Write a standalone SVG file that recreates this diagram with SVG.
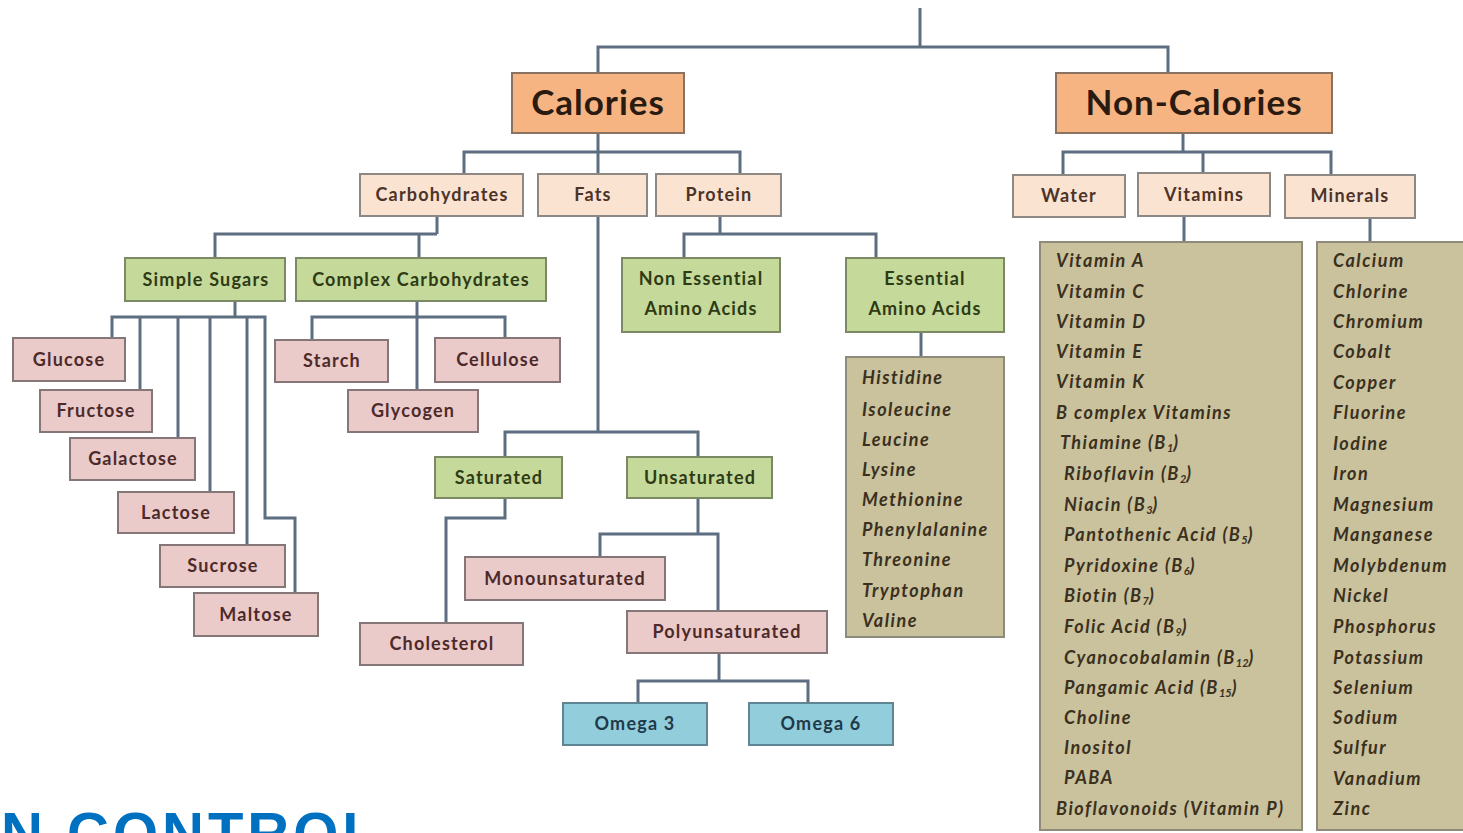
<svg xmlns="http://www.w3.org/2000/svg" width="1463" height="833" viewBox="0 0 1463 833">
<defs>
<style>
.b{stroke-width:2}
.or{fill:#F6B483;stroke:#8a7260}
.pe{fill:#FBE3D2;stroke:#8e8884}
.gr{fill:#C5D99B;stroke:#7b8a64}
.pk{fill:#EBCACA;stroke:#857777}
.bl{fill:#92CDDC;stroke:#5f8494}
.kh{fill:#C9C29D;stroke:#8f8b7a}
text{font-family:Lato,"Open Sans","Liberation Sans",sans-serif;font-weight:bold}
.t1{font-size:35px;letter-spacing:1px;fill:#2a1a10;text-anchor:middle}
.t2,.tg,.tp,.tb{font-size:18px;letter-spacing:1.2px;text-anchor:middle}
.t2{fill:#4d3328}
.tg{fill:#2e3b14}
.tp{fill:#4d2a2a}
.tb{fill:#1f3a48}
.li{font-size:18px;letter-spacing:1.5px;font-style:italic;fill:#3b3020}
.sb{font-size:11px;letter-spacing:0}
.con{fill:none;stroke:#5d6e80;stroke-width:3}
</style>
</defs>
<rect width="1463" height="833" fill="#ffffff"/>
<g id="connectors" class="con">
<path d="M920,8 V47"/>
<path d="M598,73 V47 H1168 V73"/>
<path d="M598,133 V174"/>
<path d="M464,174 V152 H740 V174"/>
<path d="M1183,133 V152"/>
<path d="M1063,175 V152 H1331 V175"/>
<path d="M1203,152 V173"/>
<path d="M1184,216 V242"/>
<path d="M1370,218 V242"/>
<path d="M437,216 V234"/>
<path d="M215,258 V234 H437"/>
<path d="M419,234 V258"/>
<path d="M235,301 V317"/>
<path d="M112,338 V317 H265 V518 H295 V593"/>
<path d="M140,317 V390"/>
<path d="M178,317 V438"/>
<path d="M210,317 V492"/>
<path d="M247,317 V545"/>
<path d="M417,301 V390"/>
<path d="M312,340 V317 H505 V338"/>
<path d="M598,216 V432"/>
<path d="M505,457 V432 H698 V457"/>
<path d="M505,498 V518 H446 V623"/>
<path d="M698,498 V534"/>
<path d="M600,557 V534 H718 V611"/>
<path d="M719,653 V681"/>
<path d="M638,703 V681 H808 V703"/>
<path d="M720,216 V234"/>
<path d="M684,258 V234 H876 V258"/>
<path d="M921,332 V357"/>
</g>
<g id="calories"><rect class="b or" x="512" y="73" width="172" height="60"/><text class="t1" x="598" y="115">Calories</text></g>
<g id="non-calories"><rect class="b or" x="1056" y="73" width="276" height="60"/><text class="t1" x="1194" y="115">Non-Calories</text></g>
<g id="carbohydrates"><rect class="b pe" x="360" y="174" width="163" height="42"/><text class="t2" x="442" y="201">Carbohydrates</text></g>
<g id="fats"><rect class="b pe" x="538" y="174" width="109" height="42"/><text class="t2" x="593" y="201">Fats</text></g>
<g id="protein"><rect class="b pe" x="656" y="174" width="125" height="42"/><text class="t2" x="719" y="201">Protein</text></g>
<g id="water"><rect class="b pe" x="1013" y="175" width="112" height="42"/><text class="t2" x="1069" y="202">Water</text></g>
<g id="vitamins"><rect class="b pe" x="1138" y="173" width="132" height="43"/><text class="t2" x="1204" y="201">Vitamins</text></g>
<g id="minerals"><rect class="b pe" x="1285" y="175" width="130" height="43"/><text class="t2" x="1350" y="202">Minerals</text></g>
<g id="simple-sugars"><rect class="b gr" x="125" y="258" width="160" height="43"/><text class="tg" x="206" y="285.5">Simple Sugars</text></g>
<g id="complex-carbohydrates"><rect class="b gr" x="296" y="258" width="250" height="43"/><text class="tg" x="421" y="285.5">Complex Carbohydrates</text></g>
<g id="non-essential"><rect class="b gr" x="622" y="258" width="158" height="74"/><text class="tg" x="701" y="285">Non Essential</text><text class="tg" x="701" y="315">Amino Acids</text></g>
<g id="essential"><rect class="b gr" x="846" y="258" width="158" height="74"/><text class="tg" x="925" y="285">Essential</text><text class="tg" x="925" y="315">Amino Acids</text></g>
<g id="glucose"><rect class="b pk" x="13" y="338" width="112" height="43"/><text class="tp" x="69" y="365.5">Glucose</text></g>
<g id="fructose"><rect class="b pk" x="40" y="390" width="112" height="42"/><text class="tp" x="96" y="417">Fructose</text></g>
<g id="galactose"><rect class="b pk" x="70" y="438" width="125" height="42"/><text class="tp" x="133" y="465">Galactose</text></g>
<g id="lactose"><rect class="b pk" x="118" y="492" width="116" height="41"/><text class="tp" x="176" y="518.5">Lactose</text></g>
<g id="sucrose"><rect class="b pk" x="160" y="545" width="125" height="42"/><text class="tp" x="223" y="572">Sucrose</text></g>
<g id="maltose"><rect class="b pk" x="194" y="593" width="124" height="43"/><text class="tp" x="256" y="620.5">Maltose</text></g>
<g id="starch"><rect class="b pk" x="275" y="340" width="113" height="42"/><text class="tp" x="332" y="367">Starch</text></g>
<g id="cellulose"><rect class="b pk" x="435" y="338" width="125" height="44"/><text class="tp" x="498" y="366">Cellulose</text></g>
<g id="glycogen"><rect class="b pk" x="348" y="390" width="130" height="42"/><text class="tp" x="413" y="417">Glycogen</text></g>
<g id="saturated"><rect class="b gr" x="435" y="457" width="127" height="41"/><text class="tg" x="499" y="483.5">Saturated</text></g>
<g id="unsaturated"><rect class="b gr" x="627" y="457" width="145" height="41"/><text class="tg" x="700" y="483.5">Unsaturated</text></g>
<g id="cholesterol"><rect class="b pk" x="360" y="623" width="163" height="42"/><text class="tp" x="442" y="650">Cholesterol</text></g>
<g id="monounsaturated"><rect class="b pk" x="465" y="557" width="200" height="43"/><text class="tp" x="565" y="584.5">Monounsaturated</text></g>
<g id="polyunsaturated"><rect class="b pk" x="627" y="611" width="200" height="42"/><text class="tp" x="727" y="638">Polyunsaturated</text></g>
<g id="omega3"><rect class="b bl" x="563" y="703" width="144" height="42"/><text class="tb" x="635" y="730">Omega 3</text></g>
<g id="omega6"><rect class="b bl" x="749" y="703" width="144" height="42"/><text class="tb" x="821" y="730">Omega 6</text></g>
<g id="amino-list"><rect class="b kh" x="846" y="357" width="158" height="280"/>
<text class="li" x="862" y="384">Histidine</text>
<text class="li" x="862" y="416">Isoleucine</text>
<text class="li" x="862" y="446">Leucine</text>
<text class="li" x="862" y="476">Lysine</text>
<text class="li" x="862" y="506">Methionine</text>
<text class="li" x="862" y="536">Phenylalanine</text>
<text class="li" x="862" y="566">Threonine</text>
<text class="li" x="862" y="597">Tryptophan</text>
<text class="li" x="862" y="627">Valine</text>
</g>
<g id="vitamin-list"><rect class="b kh" x="1040" y="242" width="262" height="588"/>
<text class="li" x="1056" y="267">Vitamin A</text>
<text class="li" x="1056" y="298">Vitamin C</text>
<text class="li" x="1056" y="328">Vitamin D</text>
<text class="li" x="1056" y="358">Vitamin E</text>
<text class="li" x="1056" y="388">Vitamin K</text>
<text class="li" x="1056" y="419">B complex Vitamins</text>
<text class="li" x="1060" y="449">Thiamine (B<tspan class="sb" dy="3">1</tspan><tspan dy="-3">)</tspan></text>
<text class="li" x="1064" y="480">Riboflavin (B<tspan class="sb" dy="3">2</tspan><tspan dy="-3">)</tspan></text>
<text class="li" x="1064" y="511">Niacin (B<tspan class="sb" dy="3">3</tspan><tspan dy="-3">)</tspan></text>
<text class="li" x="1064" y="541">Pantothenic Acid (B<tspan class="sb" dy="3">5</tspan><tspan dy="-3">)</tspan></text>
<text class="li" x="1064" y="572">Pyridoxine (B<tspan class="sb" dy="3">6</tspan><tspan dy="-3">)</tspan></text>
<text class="li" x="1064" y="602">Biotin (B<tspan class="sb" dy="3">7</tspan><tspan dy="-3">)</tspan></text>
<text class="li" x="1064" y="633">Folic Acid (B<tspan class="sb" dy="3">9</tspan><tspan dy="-3">)</tspan></text>
<text class="li" x="1064" y="664">Cyanocobalamin (B<tspan class="sb" dy="3">12</tspan><tspan dy="-3">)</tspan></text>
<text class="li" x="1064" y="694">Pangamic Acid (B<tspan class="sb" dy="3">15</tspan><tspan dy="-3">)</tspan></text>
<text class="li" x="1064" y="724">Choline</text>
<text class="li" x="1064" y="754">Inositol</text>
<text class="li" x="1064" y="784">PABA</text>
<text class="li" x="1056" y="815">Bioflavonoids (Vitamin P)</text>
</g>
<g id="mineral-list"><rect class="b kh" x="1317" y="242" width="160" height="588"/>
<text class="li" x="1333" y="267">Calcium</text>
<text class="li" x="1333" y="298">Chlorine</text>
<text class="li" x="1333" y="328">Chromium</text>
<text class="li" x="1333" y="358">Cobalt</text>
<text class="li" x="1333" y="389">Copper</text>
<text class="li" x="1333" y="419">Fluorine</text>
<text class="li" x="1333" y="450">Iodine</text>
<text class="li" x="1333" y="480">Iron</text>
<text class="li" x="1333" y="511">Magnesium</text>
<text class="li" x="1333" y="541">Manganese</text>
<text class="li" x="1333" y="572">Molybdenum</text>
<text class="li" x="1333" y="602">Nickel</text>
<text class="li" x="1333" y="633">Phosphorus</text>
<text class="li" x="1333" y="664">Potassium</text>
<text class="li" x="1333" y="694">Selenium</text>
<text class="li" x="1333" y="724">Sodium</text>
<text class="li" x="1333" y="754">Sulfur</text>
<text class="li" x="1333" y="785">Vanadium</text>
<text class="li" x="1333" y="815">Zinc</text>
</g>
<text x="1" y="853" style="font-family:'Liberation Sans',Arial,sans-serif;font-weight:bold;font-size:58px;letter-spacing:4px;fill:#0070C0">N CONTROL</text>
</svg>
